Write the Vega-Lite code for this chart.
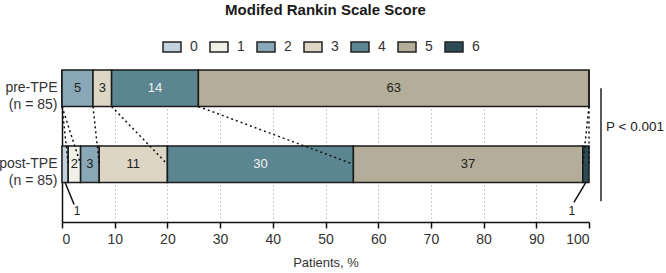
{
  "$schema": "https://vega.github.io/schema/vega-lite/v6.json",
  "width": 527,
  "height": 152,
  "autosize": {"type": "none"},
  "padding": {"left": 62, "top": 70, "right": 77, "bottom": 51},
  "background": "white",
  "config": {
    "view": {"stroke": null},
    "font": "Liberation Sans",
    "text": {"font": "Liberation Sans"}
  },
  "title": {
    "text": "Modifed Rankin Scale Score",
    "fontSize": 15,
    "fontWeight": "bold",
    "font": "Liberation Sans",
    "color": "#1a1a1a",
    "anchor": "middle",
    "frame": "group",
    "dy": -15
  },
  "data": {
    "values": [
      {"group": "pre-TPE", "score": "0", "n": 0},
      {"group": "pre-TPE", "score": "1", "n": 0},
      {"group": "pre-TPE", "score": "2", "n": 5},
      {"group": "pre-TPE", "score": "3", "n": 3},
      {"group": "pre-TPE", "score": "4", "n": 14},
      {"group": "pre-TPE", "score": "5", "n": 63},
      {"group": "pre-TPE", "score": "6", "n": 0},
      {"group": "post-TPE", "score": "0", "n": 1},
      {"group": "post-TPE", "score": "1", "n": 2},
      {"group": "post-TPE", "score": "2", "n": 3},
      {"group": "post-TPE", "score": "3", "n": 11},
      {"group": "post-TPE", "score": "4", "n": 30},
      {"group": "post-TPE", "score": "5", "n": 37},
      {"group": "post-TPE", "score": "6", "n": 1}
    ]
  },
  "transform": [
    {"stack": "n", "groupby": ["group"], "sort": [{"field": "score", "order": "ascending"}], "as": ["x0", "x1"], "offset": "normalize"}
  ],
  "encoding": {
    "y": {
      "field": "group",
      "type": "nominal",
      "scale": {"domain": ["pre-TPE", "post-TPE"], "paddingInner": 0.52, "paddingOuter": 0.26, "align": 0},
      "axis": {
        "title": null,
        "labelExpr": "[datum.label, '(n = 85)']",
        "labelFontSize": 14,
        "labelColor": "#333333",
        "labelLineHeight": 17,
        "labelPadding": 5,
        "ticks": false,
        "domainColor": "#111111",
        "domainWidth": 1.5,
        "grid": false
      }
    }
  },
  "layer": [
    {
      "mark": {"type": "bar", "stroke": "#1a1a1a", "strokeWidth": 1.5},
      "encoding": {
        "x": {
          "field": "x0",
          "type": "quantitative",
          "scale": {"domain": [0, 1], "nice": false},
          "axis": {
            "values": [0, 0.1, 0.2, 0.3, 0.4, 0.5, 0.6, 0.7, 0.8, 0.9, 1],
            "labelExpr": "format(datum.value * 100, 'd')",
            "title": "Patients, %",
            "titleFontSize": 13,
            "titleFontWeight": "normal",
            "titleColor": "#333333",
            "titlePadding": 10,
            "labelFontSize": 14,
            "labelColor": "#333333",
            "labelPadding": 4,
            "tickSize": 6,
            "tickColor": "#111111",
            "tickWidth": 1.5,
            "domainColor": "#111111",
            "domainWidth": 1.5,
            "grid": true,
            "gridDash": [1, 3],
            "gridColor": "#999999",
            "gridWidth": 1,
            "gridOpacity": {"condition": {"test": "datum.value == 0 || datum.value == 1", "value": 0}, "value": 1}
          }
        },
        "x2": {"field": "x1"},
        "color": {
          "field": "score",
          "type": "nominal",
          "scale": {
            "domain": ["0", "1", "2", "3", "4", "5", "6"],
            "range": ["#c3d3de", "#f1f0e8", "#88a8b7", "#ddd6c5", "#5b8591", "#b4ad99", "#2c4b54"]
          },
          "legend": {
            "orient": "none",
            "legendX": 100,
            "legendY": -33,
            "direction": "horizontal",
            "title": null,
            "symbolType": "M-1,-0.55H1V0.55H-1Z",
            "symbolSize": 324,
            "symbolStrokeColor": "#222222",
            "symbolStrokeWidth": 1.5,
            "symbolOpacity": 1,
            "labelFontSize": 14,
            "labelColor": "#333333",
            "labelOffset": 8,
            "columnPadding": 9
          }
        }
      }
    },
    {
      "transform": [
        {"pivot": "group", "value": "x1", "groupby": ["score"]}
      ],
      "mark": {"type": "rule", "strokeDash": [2, 3], "strokeWidth": 1.5, "color": "#111111"},
      "encoding": {
        "x": {"field": "pre-TPE", "type": "quantitative"},
        "x2": {"field": "post-TPE"},
        "y": {"datum": "pre-TPE", "type": "nominal", "bandPosition": 1},
        "y2": {"datum": "post-TPE"}
      }
    },
    {
      "transform": [
        {"fold": ["x0", "x1"], "as": ["end", "pos"]},
        {"aggregate": [{"op": "mean", "field": "pos", "as": "mid"}], "groupby": ["group", "score", "n"]}
      ],
      "layer": [
        {
          "transform": [{"filter": "datum.n > 1"}],
          "mark": {"type": "text", "fontSize": 13, "baseline": "middle", "align": "center"},
          "encoding": {
            "x": {"field": "mid", "type": "quantitative"},
            "y": {"field": "group", "type": "nominal", "bandPosition": 0.5},
            "text": {"field": "n", "type": "nominal"},
            "color": {"condition": {"test": "datum.score == '4'", "value": "#f2f2f2"}, "value": "#222222"}
          }
        },
        {
          "transform": [{"filter": "datum.n == 1 && datum.score == '0'"}],
          "mark": {"type": "rule", "strokeWidth": 1.5, "color": "#111111", "x2Offset": 9, "y2Offset": 22},
          "encoding": {
            "x": {"field": "mid", "type": "quantitative"},
            "x2": {"field": "mid"},
            "y": {"field": "group", "type": "nominal", "bandPosition": 1},
            "y2": {"field": "group", "bandPosition": 1}
          }
        },
        {
          "transform": [{"filter": "datum.n == 1 && datum.score == '6'"}],
          "mark": {"type": "rule", "strokeWidth": 1.5, "color": "#111111", "x2Offset": -12, "y2Offset": 20},
          "encoding": {
            "x": {"field": "mid", "type": "quantitative"},
            "x2": {"field": "mid"},
            "y": {"field": "group", "type": "nominal", "bandPosition": 1},
            "y2": {"field": "group", "bandPosition": 1}
          }
        },
        {
          "transform": [{"filter": "datum.n == 1 && datum.score == '0'"}],
          "mark": {"type": "text", "fontSize": 12, "baseline": "middle", "align": "center", "dx": 12, "dy": 29, "color": "#222222"},
          "encoding": {
            "x": {"field": "mid", "type": "quantitative"},
            "y": {"field": "group", "type": "nominal", "bandPosition": 1},
            "text": {"field": "n", "type": "nominal"}
          }
        },
        {
          "transform": [{"filter": "datum.n == 1 && datum.score == '6'"}],
          "mark": {"type": "text", "fontSize": 12, "baseline": "middle", "align": "center", "dx": -14, "dy": 29, "color": "#222222"},
          "encoding": {
            "x": {"field": "mid", "type": "quantitative"},
            "y": {"field": "group", "type": "nominal", "bandPosition": 1},
            "text": {"field": "n", "type": "nominal"}
          }
        }
      ]
    },
    {
      "data": {"values": [{"label": "P < 0.001"}]},
      "layer": [
        {
          "mark": {"type": "rule", "strokeWidth": 1.5, "color": "#222222", "xOffset": 12, "y2Offset": 37},
          "encoding": {
            "x": {"datum": 1, "type": "quantitative"},
            "y": {"datum": "pre-TPE", "type": "nominal"},
            "y2": {"datum": "post-TPE"}
          }
        },
        {
          "mark": {"type": "text", "fontSize": 13.5, "align": "left", "baseline": "middle", "dx": 17, "dy": 21, "color": "#222222"},
          "encoding": {
            "x": {"datum": 1, "type": "quantitative"},
            "y": {"datum": "pre-TPE", "type": "nominal", "bandPosition": 1},
            "text": {"field": "label", "type": "nominal"}
          }
        }
      ]
    }
  ]
}
